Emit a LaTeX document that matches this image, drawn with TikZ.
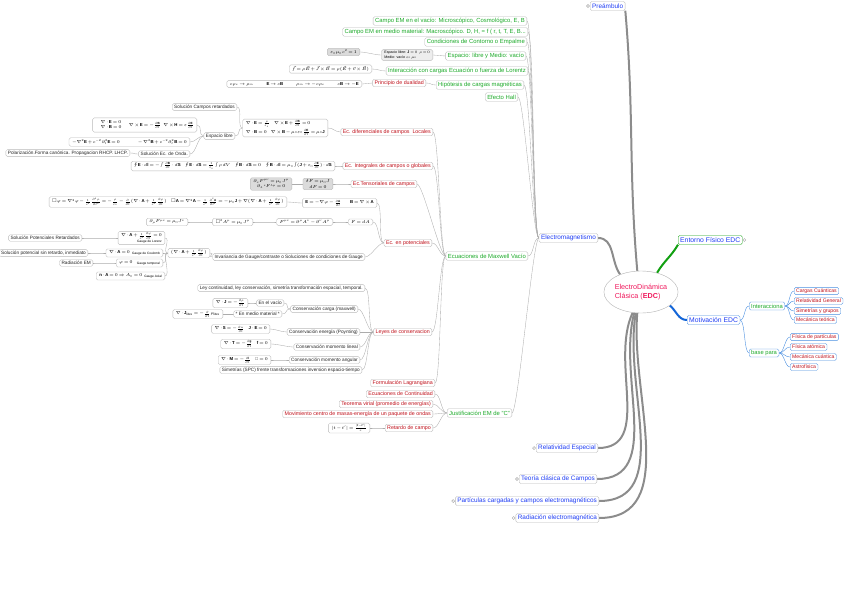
\RequirePackage{fix-cm}
\documentclass[tikz,border=0pt]{standalone}
\usepackage{amssymb}
\usepackage{fontspec}
\setmainfont{Liberation Sans}
\usetikzlibrary{positioning,shapes.geometric,backgrounds}
\definecolor{mmblue}{HTML}{1F3DF5}
\definecolor{mmgreen}{HTML}{1DAA2A}
\definecolor{mmred}{HTML}{C0101A}
\definecolor{mmpink}{HTML}{F0185C}
\definecolor{mmsky}{HTML}{4A8FE0}
\definecolor{mmgrey}{HTML}{8C8C8C}
\definecolor{brgreen}{HTML}{12A012}
\definecolor{brblue}{HTML}{1466D8}
% tighter math spacing for the small formula boxes
\thinmuskip=1.5mu
\medmuskip=2mu
\thickmuskip=3mu

\begin{document}
\begin{tikzpicture}[x=1pt,y=-1pt,
  mmbox/.style={rectangle,rounded corners=1.5pt,draw=gray!55,fill=white,line width=0.35pt,
               inner xsep=2pt,inner ysep=1.2pt},
  topic/.style={mmbox,text=mmblue,font=\fontsize{6.4}{7}\selectfont,minimum height=9pt,anchor=east},
  sub/.style={mmbox,text=mmgreen,font=\fontsize{5.9}{7}\selectfont,minimum height=8.5pt,anchor=east},
  leaf/.style={mmbox,text=mmred,font=\fontsize{5.3}{6}\selectfont,minimum height=7.5pt,anchor=east},
  note/.style={mmbox,text=black!85,font=\fontsize{4.7}{5.5}\selectfont,minimum height=6.5pt,anchor=east},
  eq/.style={mmbox,font=\fontsize{4.3}{5.6}\selectfont,align=center,anchor=east,inner xsep=3pt,inner ysep=1.5pt},
  eqg/.style={eq,fill=gray!28},
  rtopic/.style={mmbox,draw=mmsky,text=mmblue,font=\fontsize{6.8}{7.5}\selectfont,minimum height=9pt,anchor=west},
  rsub/.style={rtopic,text=mmgreen,font=\fontsize{5.8}{6.5}\selectfont,minimum height=8pt},
  rleaf/.style={rtopic,text=mmred,font=\fontsize{5.1}{6}\selectfont,minimum height=7pt},
  knob/.style={circle,draw=gray!70,fill=white,minimum size=3pt,inner sep=0pt},
  lnk/.style={draw=gray!65,line width=0.35pt},
  rlnk/.style={draw=mmsky,line width=0.4pt},
  fan/.style={out=180,in=0,distance=6pt},
  rfan/.style={out=0,in=180,distance=5pt},
  thk/.style={draw=mmgrey,line width=2pt},
]
\useasboundingbox (0,0) rectangle (848,600);

% centre
\node[ellipse,draw=gray!60,fill=white,minimum width=68pt,minimum height=42pt,inner sep=0pt,
      align=left,text=mmpink,font=\fontsize{7.2}{9}\selectfont] (edc) at (641,292)
      {ElectroDinámica\\Clásica (\textbf{EDC})};

% right side
\node[rtopic,draw=brgreen] (ent) at (678,240) {Entorno Físico EDC};
\node[knob,right=0.3pt of ent] (entk) {};
\node[rtopic] (mot) at (687,320) {Motivación EDC};
\node[rsub] (inter) at (749,306) {Interacciona};
\node[rsub] (base) at (749,353) {base para};
\node[rleaf] (cc) at (794,291) {Cargas Cuánticas};
\node[rleaf] (rg) at (794,301) {Relatividad General};
\node[rleaf] (sg) at (794,311) {Simetrías y grupos};
\node[rleaf] (mt) at (794,320) {Mecánica teórica};
\node[rleaf] (fp) at (790,337) {Física de partículas};
\node[rleaf] (fa) at (790,347) {Física atómica};
\node[rleaf] (mq) at (790,357) {Mecánica cuántica};
\node[rleaf] (astro) at (790,367) {Astrofísica};

% main topics, left
\node[topic,anchor=west] (pre) at (590,6) {Preámbulo};
\node[knob,left=0.3pt of pre] (prek) {};
\node[topic] (em) at (598,238) {Electromagnetismo};
\node[topic] (rel) at (598,448) {Relatividad Especial};
\node[knob,left=0.3pt of rel] (relk) {};
\node[topic] (tcc) at (597,479) {Teoría clásica de Campos};
\node[knob,left=0.3pt of tcc] (tcck) {};
\node[topic] (pcc) at (599,501) {Partículas cargadas y campos electromagnéticos};
\node[knob,left=0.3pt of pcc] (pcck) {};
\node[topic] (rad) at (599,518) {Radiación electromagnética};
\node[knob,left=0.3pt of rad] (radk) {};

% Electromagnetismo
\node[sub] (cvac) at (527,21) {Campo EM en el vacío: Microscópico, Cosmológico, E, B};
\node[sub] (cmat) at (528,32) {Campo EM en medio material: Macroscópico. D, H, = f ( r, t, T, E, B...};
\node[sub] (cont) at (527,42) {Condiciones de Contorno o Empalme};
\node[sub] (esp) at (526,56) {Espacio: libre y Medio: vacío};
\node[eqg,fill=gray!14,align=left,font=\fontsize{3.6}{4.4}\selectfont] (fesp) at (433,55)
      {Espacio libre: $\mathbf{J}=0\ \ \rho=0$\\Medio: vacío $\varepsilon_0\,\mu_0$};
\node[eqg] (feps) at (360,52) {$\varepsilon_0\mu_0 c^2=1$};
\node[sub] (lor) at (528,71) {Interacción con cargas Ecuación o fuerza de Lorentz};
\node[eq] (flor) at (372,69) {$\vec{f}=\rho\vec{E}+\vec{J}\times\vec{B}=\rho(\vec{E}+\vec{v}\times\vec{B})$};
\node[sub] (hip) at (524,85) {Hipótesis de cargas magnéticas};
\node[leaf] (dual) at (426,83) {Principio de dualidad};
\node[eq] (fdual) at (362,84) {$c\rho_e\to\rho_m\qquad\quad \mathbf{E}\to c\mathbf{B}\qquad\quad \rho_m\to -c\rho_e\qquad\quad c\mathbf{B}\to-\mathbf{E}$};
\node[sub] (hall) at (518,97) {Efecto Hall};
\node[sub] (mxw) at (528,256) {Ecuaciones de Maxwell Vacío};
\node[sub] (jus) at (512,413) {Justificación EM de "C"};

% Maxwell: local and global forms
\node[leaf] (ediff) at (433,132) {Ec. diferenciales de campos\ \ Locales};
\node[eq,align=left] (fdiff) at (328,128)
      {$\nabla\cdot\mathbf{E}=\frac{\rho}{\varepsilon_0}\quad \nabla\times\mathbf{E}+\frac{\partial\mathbf{B}}{\partial t}=0$\\[1pt]
       $\nabla\cdot\mathbf{B}=0\quad \nabla\times\mathbf{B}-\mu_0\varepsilon_0\frac{\partial\mathbf{E}}{\partial t}=\mu_0\mathbf{J}$};
\node[note] (sret) at (237,107) {Solución Campos retardados};
\node[note] (elib) at (235,136) {Espacio libre};
\node[eq] (flib) at (197,125)
      {$\begin{array}{l}\nabla\cdot\mathbf{E}=0\\ \nabla\cdot\mathbf{B}=0\end{array}\ \ \nabla\times\mathbf{E}=-\frac{\partial\mathbf{B}}{\partial t}\ \ \nabla\times\mathbf{H}=\varepsilon\frac{\partial\mathbf{E}}{\partial t}$};
\node[eq] (fonda) at (190,142) {$-\nabla^2\mathbf{E}+c^{-2}\partial_t^2\mathbf{E}=0\qquad\qquad -\nabla^2\mathbf{B}+c^{-2}\partial_t^2\mathbf{B}=0$};
\node[note] (sonda) at (190,154) {Solución Ec. de Onda.};
\node[note] (pol) at (130,153) {Polarización.Forma canónica. Propagacion RHCP. LHCP.};
\node[leaf] (eint) at (433,166) {Ec. Integrales de campos o globales};
\node[eq] (fint) at (335,166)
      {$\oint\mathbf{E}\cdot d\mathbf{l}=-\int\frac{\partial\mathbf{B}}{\partial t}\cdot d\mathbf{S}\quad
        \oint\mathbf{E}\cdot d\mathbf{S}=\frac{1}{\varepsilon_0}\int\rho\,dV\quad
        \oint\mathbf{B}\cdot d\mathbf{S}=0\quad
        \oint\mathbf{B}\cdot d\mathbf{l}=\mu_0\int(\mathbf{J}+\varepsilon_0\frac{\partial\mathbf{E}}{\partial t})\cdot d\mathbf{S}$};
\node[leaf] (eten) at (417,184) {Ec.Tensoriales de campos};
\node[eqg] (ften2) at (333,184) {$\delta F=\mu_0 J$\\$dF=0$};
\node[eqg] (ften1) at (292,184) {$\partial_\nu F^{\mu\nu}=\mu_0 J^\mu$\\$\partial_\lambda\,{}^{*}\!F^{\lambda\mu}=0$};

% potentials
\node[leaf] (epot) at (432,243) {Ec. en potenciales};
\node[eq] (fpot2) at (377,203) {$\mathbf{E}=-\nabla\varphi-\frac{\partial\mathbf{A}}{\partial t}\qquad \mathbf{B}=\nabla\times\mathbf{A}$};
\node[eq] (fpot1) at (287,202)
      {$\square\varphi=\nabla^2\varphi-\frac{1}{c^2}\frac{\partial^2\varphi}{\partial t^2}=-\frac{\rho}{\varepsilon_0}-\frac{\partial}{\partial t}(\nabla\cdot\mathbf{A}+\frac{1}{c^2}\frac{\partial\varphi}{\partial t})\quad
        \square\mathbf{A}=\nabla^2\mathbf{A}-\frac{1}{c^2}\frac{\partial^2\mathbf{A}}{\partial t^2}=-\mu_0\mathbf{J}+\nabla(\nabla\cdot\mathbf{A}+\frac{1}{c^2}\frac{\partial\varphi}{\partial t})$};
\node[eq] (fdA) at (373,222) {$F=dA$};
\node[eq] (fFmn) at (333,222) {$F^{\mu\nu}=\partial^\mu A^\nu-\partial^\nu A^\mu$};
\node[eq] (fbox) at (253,222) {$\square^2 A^\mu=\mu_0 J^\mu$};
\node[eq] (fdF) at (188,222) {$\partial_\mu F^{\mu\nu}=\mu_0 J^\nu$};
\node[note] (gauge) at (365,257) {Invariancia de Gauge/contraste o Soluciones de condiciones de Gauge};
\node[eq] (fgg) at (210,253) {$(\nabla\cdot\mathbf{A}+\frac{1}{c^2}\frac{\partial\varphi}{\partial t})$};
\node[eq,align=right] (flz) at (165,238)
      {$\nabla\cdot\mathbf{A}+\frac{1}{c^2}\frac{\partial\varphi}{\partial t}=0$\\{\fontsize{3.2}{3.6}\selectfont Gauge de Lorenz}};
\node[eq] (fcb) at (163,253) {$\nabla\cdot\mathbf{A}=0$\enspace\raisebox{-1.5pt}{\fontsize{3.2}{3.6}\selectfont Gauge de Coulomb}};
\node[eq] (ftp) at (163,263) {$\varphi=0$\quad\raisebox{-1.5pt}{\fontsize{3.2}{3.6}\selectfont Gauge temporal}};
\node[eq] (fax) at (165,276) {$\mathbf{n}\cdot\mathbf{A}=0\Rightarrow A_0=0$\enspace\raisebox{-1.5pt}{\fontsize{3.2}{3.6}\selectfont Gauge Axial}};
\node[note] (spr) at (82,238) {Solución Potenciales Retardados};
\node[note] (ssr) at (88,253) {Solución potencial sin retardo, inmediato};
\node[note] (rem) at (93,263) {Radiación EM};

% conservation laws
\node[leaf] (leyes) at (432,332) {Leyes de conservacion};
\node[note] (lcont) at (365,288) {Ley continuidad, ley conservación, simetría transformación espacial, temporal.};
\node[note] (ccar) at (358,309) {Conservación carga (maxwell)};
\node[note] (vac) at (284,303) {En el vacío};
\node[eq] (fvac) at (248,303) {$\nabla\cdot\mathbf{J}=-\frac{\partial\rho}{\partial t}$};
\node[note] (mmat) at (282,314) {* En medio material *};
\node[eq] (fmat) at (223,314) {$\nabla\cdot\mathbf{J}_{\mathrm{libre}}=-\frac{\partial}{\partial t}\rho_{\mathrm{libre}}$};
\node[note] (cene) at (360,332) {Conservación energía (Poynting)};
\node[eq] (fene) at (270,329) {$\nabla\cdot\mathbf{S}=-\frac{\partial u}{\partial t}\quad \mathbf{J}\cdot\mathbf{E}=0$};
\node[note] (clin) at (360,347) {Conservación momento lineal};
\node[eq] (flin) at (271,344) {$\nabla\cdot\mathbf{T}=-\frac{\partial\mathbf{g}}{\partial t}\quad \mathbf{f}=0$};
\node[note] (cang) at (360,360) {Conservación momento angular};
\node[eq] (fang) at (271,360) {$\nabla\cdot\mathbf{M}=-\frac{\partial\mathbf{l}}{\partial t}\quad \mathbf{\Gamma}=0$};
\node[note] (simt) at (362,370) {Simetrías (SPC) frente transformaciones inversion espacio-tiempo};
\node[leaf] (lagr) at (435,383) {Formulación Lagrangiana};

% justification
\node[leaf] (econt) at (435,394) {Ecuaciones de Continuidad};
\node[leaf] (vir) at (433,404) {Teorema virial (promedio de energías)};
\node[leaf] (mcm) at (433,414) {Movimiento centro de masas-energía de un paquete de ondas};
\node[leaf] (ret) at (433,428) {Retardo de campo};
\node[eq] (fret) at (370,428) {$|t-t'|=\frac{|\mathbf{r}-\mathbf{r}'|}{c}$};

\begin{scope}[on background layer]
% thick branches
\draw[thk] (edc.100) to[out=95,in=-85] (pre.south east);
\draw[thk] (edc.140) to[out=125,in=0] (em.east);
\draw[thk] (edc.248) to[out=-115,in=0] (rel.east);
\draw[thk] (edc.252) to[out=-105,in=0] (tcc.east);
\draw[thk] (edc.256) to[out=-100,in=0] (pcc.east);
\draw[thk] (edc.260) to[out=-95,in=0] (rad.east);
\draw[thk,draw=brgreen] (edc.50) to[out=60,in=-120] (ent.south west);
\draw[thk,draw=brblue] (edc.-25) to[out=-40,in=180] (mot.west);
% right side
\draw[rlnk] (mot.east) to[rfan] (inter.west);
\draw[rlnk] (mot.east) to[rfan] (base.west);
\draw[rlnk] (inter.east) to[rfan] (cc.west);
\draw[rlnk] (inter.east) to[rfan] (rg.west);
\draw[rlnk] (inter.east) to[rfan] (sg.west);
\draw[rlnk] (inter.east) to[rfan] (mt.west);
\draw[rlnk] (base.east) to[rfan] (fp.west);
\draw[rlnk] (base.east) to[rfan] (fa.west);
\draw[rlnk] (base.east) to[rfan] (mq.west);
\draw[rlnk] (base.east) to[rfan] (astro.west);
% Electromagnetismo
\draw[lnk] (em.west) to[fan] (cvac.east);
\draw[lnk] (em.west) to[fan] (cmat.east);
\draw[lnk] (em.west) to[fan] (cont.east);
\draw[lnk] (em.west) to[fan] (esp.east);
\draw[lnk] (em.west) to[fan] (lor.east);
\draw[lnk] (em.west) to[fan] (hip.east);
\draw[lnk] (em.west) to[fan] (hall.east);
\draw[lnk] (em.west) to[fan] (mxw.east);
\draw[lnk] (em.west) to[fan] (jus.east);
\draw[lnk] (esp.west) to[fan] (fesp.east);
\draw[lnk] (fesp.west) to[fan] (feps.east);
\draw[lnk] (lor.west) to[fan] (flor.east);
\draw[lnk] (hip.west) to[fan] (dual.east);
\draw[lnk] (dual.west) to[fan] (fdual.east);
% Maxwell
\draw[lnk] (mxw.west) to[fan] (ediff.east);
\draw[lnk] (mxw.west) to[fan] (eint.east);
\draw[lnk] (mxw.west) to[fan] (eten.east);
\draw[lnk] (mxw.west) to[fan] (epot.east);
\draw[lnk] (mxw.west) to[fan] (leyes.east);
\draw[lnk] (mxw.west) to[fan] (lagr.east);
\draw[lnk] (ediff.west) to[fan] (fdiff.east);
\draw[lnk] (fdiff.west) to[fan] (sret.east);
\draw[lnk] (fdiff.west) to[fan] (elib.east);
\draw[lnk] (elib.west) to[fan] (flib.east);
\draw[lnk] (elib.west) to[fan] (fonda.east);
\draw[lnk] (elib.west) to[fan] (sonda.east);
\draw[lnk] (sonda.west) to[fan] (pol.east);
\draw[lnk] (eint.west) to[fan] (fint.east);
\draw[lnk] (eten.west) to[fan] (ften2.east);
\draw[lnk] (ften2.west) to[fan] (ften1.east);
\draw[lnk] (epot.west) to[fan] (fpot2.east);
\draw[lnk] (fpot2.west) to[fan] (fpot1.east);
\draw[lnk] (epot.west) to[fan] (fdA.east);
\draw[lnk] (fdA.west) to[fan] (fFmn.east);
\draw[lnk] (fFmn.west) to[fan] (fbox.east);
\draw[lnk] (fbox.west) to[fan] (fdF.east);
\draw[lnk] (epot.west) to[fan] (gauge.east);
\draw[lnk] (gauge.west) to[fan] (fgg.east);
\draw[lnk] (fgg.west) to[fan] (flz.east);
\draw[lnk] (fgg.west) to[fan] (fcb.east);
\draw[lnk] (fgg.west) to[fan] (ftp.east);
\draw[lnk] (fgg.west) to[fan] (fax.east);
\draw[lnk] (flz.west) to[fan] (spr.east);
\draw[lnk] (fcb.west) to[fan] (ssr.east);
\draw[lnk] (ftp.west) to[fan] (rem.east);
% conservation
\draw[lnk] (leyes.west) to[fan] (lcont.east);
\draw[lnk] (leyes.west) to[fan] (ccar.east);
\draw[lnk] (leyes.west) to[fan] (cene.east);
\draw[lnk] (leyes.west) to[fan] (clin.east);
\draw[lnk] (leyes.west) to[fan] (cang.east);
\draw[lnk] (leyes.west) to[fan] (simt.east);
\draw[lnk] (ccar.west) to[fan] (vac.east);
\draw[lnk] (ccar.west) to[fan] (mmat.east);
\draw[lnk] (vac.west) to[fan] (fvac.east);
\draw[lnk] (mmat.west) to[fan] (fmat.east);
\draw[lnk] (cene.west) to[fan] (fene.east);
\draw[lnk] (clin.west) to[fan] (flin.east);
\draw[lnk] (cang.west) to[fan] (fang.east);
% justification
\draw[lnk] (jus.west) to[fan] (econt.east);
\draw[lnk] (jus.west) to[fan] (vir.east);
\draw[lnk] (jus.west) to[fan] (mcm.east);
\draw[lnk] (jus.west) to[fan] (ret.east);
\draw[lnk] (ret.west) to[fan] (fret.east);
\end{scope}
\end{tikzpicture}
\end{document}
